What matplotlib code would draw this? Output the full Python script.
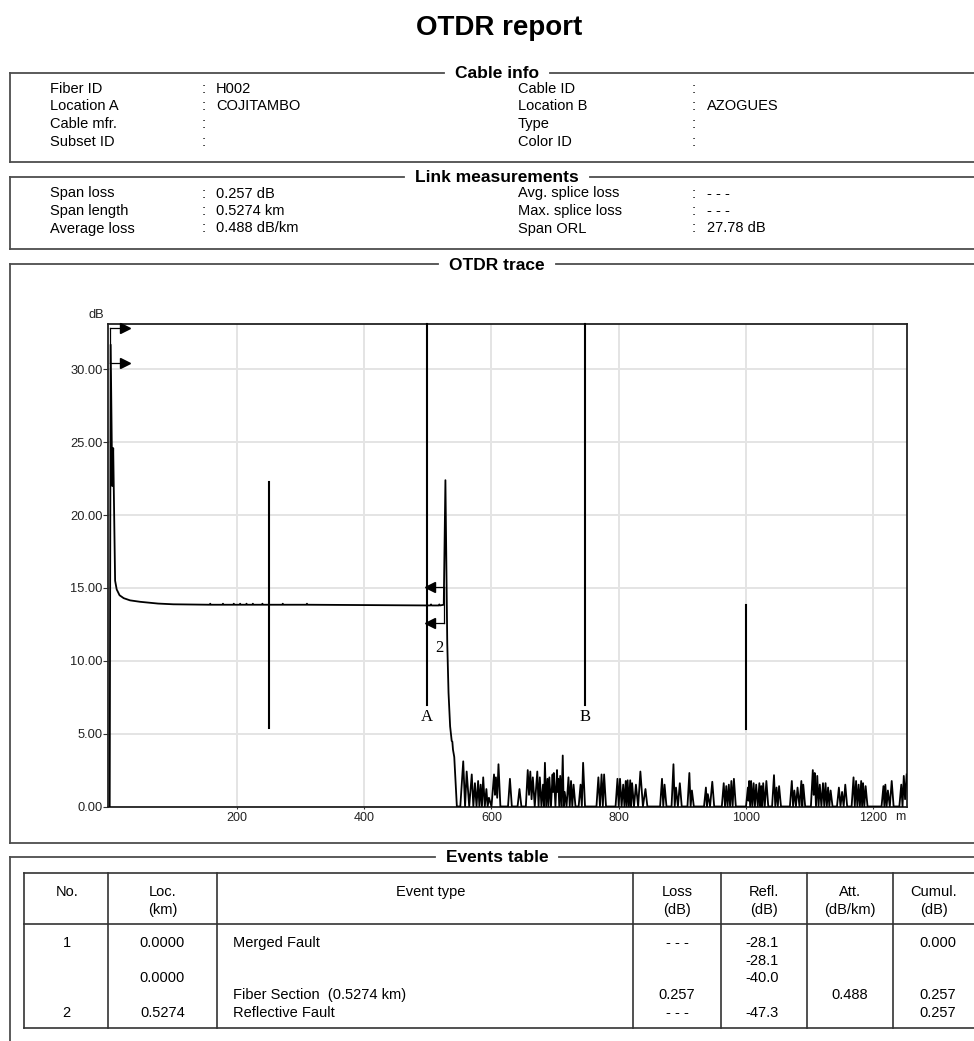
import matplotlib
matplotlib.use('Agg')
import matplotlib.pyplot as plt
import numpy as np
from matplotlib.lines import Line2D

plt.rcParams['font.family'] = ['Liberation Sans', 'DejaVu Sans']

# ---- report data ----------------------------------------------------------
cable_left_labels = ['Fiber ID', 'Location A', 'Cable mfr.', 'Subset ID']
cable_left_values = ['H002', 'COJITAMBO', '', '']
cable_right_labels = ['Cable ID', 'Location B', 'Type', 'Color ID']
cable_right_values = ['', 'AZOGUES', '', '']

link_left_labels = ['Span loss', 'Span length', 'Average loss']
link_left_values = ['0.257 dB', '0.5274 km', '0.488 dB/km']
link_right_labels = ['Avg. splice loss', 'Max. splice loss', 'Span ORL']
link_right_values = ['- - -', '- - -', '27.78 dB']

# launch + fiber section of the trace (m, dB)
fiber_m = [0, 1.5, 4, 5.5, 8.5, 11, 15.5, 22, 32, 48, 76, 100,
           157, 158, 159, 177, 178, 179, 194, 195, 196, 204, 205, 206,
           214, 215, 216, 224, 225, 226, 239, 240, 241, 271, 272, 273,
           309, 310, 311, 504, 505, 506, 517, 518, 519, 525]
fiber_db = [0, 31.7, 22.0, 24.6, 15.5, 14.9, 14.5, 14.3, 14.15, 14.05, 13.93, 13.88,
            13.85, 13.92, 13.85, 13.85, 13.92, 13.85, 13.85, 13.92, 13.85, 13.85, 13.92, 13.85,
            13.85, 13.92, 13.85, 13.85, 13.92, 13.85, 13.85, 13.92, 13.85, 13.85, 13.92, 13.85,
            13.85, 13.92, 13.85, 13.8, 13.87, 13.8, 13.8, 13.87, 13.8, 13.85]

# reflective end of fiber
end_m = [527.6, 529, 530.5, 532.5, 535, 537.5, 538.5, 539.5, 541.5]
end_db = [22.4, 16.9, 11.2, 7.8, 5.5, 4.5, 4.45, 3.9, 3.4]

# noise floor after the end
noise_m = [
    545.6, 551, 555.6, 558.5, 561, 565, 569, 571.5, 574, 576.5,
    579, 581, 583, 585, 587, 589.5, 592, 594, 596, 600,
    604, 605.5, 607, 609, 611, 614, 626, 629, 632, 641,
    644, 647, 654, 657, 659, 661, 663, 665, 668, 672,
    674, 676, 678.5, 681, 682.5, 684, 686, 688, 689.5, 691,
    693.5, 696, 697, 698, 700.5, 703, 704, 705, 706.5, 708,
    710, 712, 713.5, 715, 718, 721, 723, 725, 727, 729,
    732, 737, 740, 742, 744, 747, 765, 768, 770.5, 773,
    775, 777, 780, 795, 798, 800, 802, 804.5, 807, 809,
    811, 812.5, 814, 816, 818, 819.5, 821, 824, 827, 830.5,
    834, 838, 842, 845, 865, 868, 870, 872, 875, 883,
    886, 888, 890, 893, 896, 899, 908, 911, 913, 915,
    918, 934, 937, 938.5, 940, 943.5, 947, 950, 962, 965,
    967, 969, 971, 973, 975, 977, 979, 981, 984, 1000,
    1003, 1004, 1005, 1006.5, 1008, 1010, 1012, 1014, 1016, 1018.5,
    1021, 1022.5, 1024, 1025.5, 1027, 1029.5, 1032, 1035, 1041, 1044,
    1046, 1048, 1050, 1052, 1055, 1069, 1072, 1074, 1076, 1078.5,
    1081, 1084, 1087, 1088.5, 1090, 1093, 1102, 1105, 1106.5, 1108,
    1110, 1112, 1114, 1116, 1118.5, 1121, 1123, 1125, 1127, 1129,
    1131, 1133, 1136, 1143, 1146, 1148.5, 1151, 1153.5, 1156, 1159,
    1166, 1169, 1171, 1173, 1175, 1177, 1179, 1181, 1182.5, 1184,
    1186, 1188, 1191, 1213, 1216, 1217.5, 1219, 1221, 1223, 1226,
    1229, 1232, 1241, 1244, 1246, 1248, 1250, 1252.5,
]
noise_db = [
    0, 0, 3.1, 0, 2.4, 0, 2.2, 0, 1.6, 0,
    1.75, 0, 1.5, 0, 2.0, 0, 1.2, 0, 0.6, 0,
    2.2, 0.8, 2.0, 0.6, 2.9, 0, 0, 1.9, 0, 0,
    1.2, 0, 0, 2.5, 0.8, 2.4, 0.5, 2.0, 0, 2.4,
    0, 2.0, 0, 1.5, 0, 3.0, 0, 1.9, 0, 2.0,
    0, 2.2, 1.0, 2.3, 0, 2.5, 1.0, 1.9, 0, 2.1,
    0, 3.5, 0, 1.0, 0, 2.0, 0, 1.75, 0, 1.5,
    0, 0, 1.5, 0, 3.0, 0, 0, 2.0, 0, 2.2,
    0, 2.2, 0, 0, 1.9, 0, 1.9, 0, 1.5, 0,
    1.75, 0, 1.8, 0, 1.8, 0, 1.6, 0, 1.5, 0,
    2.4, 0, 1.2, 0, 0, 1.9, 0, 1.5, 0, 0,
    2.9, 0, 1.3, 0, 1.6, 0, 0, 2.3, 0, 1.1,
    0, 0, 1.3, 0, 0.85, 0, 1.7, 0, 0, 1.6,
    0, 1.4, 0, 1.5, 0, 1.75, 0, 1.9, 0, 0,
    1.3, 0.4, 1.75, 0, 1.75, 0, 1.6, 0, 1.5, 0,
    1.6, 0, 1.4, 0, 1.6, 0, 1.75, 0, 0, 2.15,
    0, 1.3, 0, 1.4, 0, 0, 1.75, 0, 1.1, 0,
    1.3, 0, 1.75, 0, 1.5, 0, 0, 2.5, 0.8, 2.3,
    0, 2.1, 0, 1.5, 0, 1.6, 0, 1.6, 0, 1.3,
    0, 1.1, 0, 0, 1.3, 0, 1.0, 0, 1.5, 0,
    0, 2.0, 0, 1.75, 0, 1.5, 0, 1.75, 0, 1.6,
    0, 1.4, 0, 0, 1.4, 0, 1.5, 0, 1.1, 0,
    1.75, 0, 0, 1.5, 0, 2.1, 0.5, 2.2,
]

# event markers (m, dB levels)
launch_mark_m = 0.5
launch_mark_db = [32.88, 30.47]
end_mark_m = 525
end_mark_db = [15.05, 12.6]

# cursors A / B and section markers
cursor_m = [498, 747]
cursor_names = ['A', 'B']
cursor_low_db = 6.95
section_m = [250, 1000]
section_lo_db = [5.4, 5.3]
section_hi_db = [22.3, 13.8]

# events table
header_top = ['No.', 'Loc.', 'Event type', 'Loss', 'Refl.', 'Att.', 'Cumul.']
header_bottom = ['', '(km)', '', '(dB)', '(dB)', '(dB/km)', '(dB)']
col_no = [('1', 0), ('2', 4)]
col_loc = [('0.0000', 0), ('0.0000', 2), ('0.5274', 4)]
col_type = [('Merged Fault', 0), ('Fiber Section  (0.5274 km)', 3), ('Reflective Fault', 4)]
col_loss = [('- - -', 0), ('0.257', 3), ('- - -', 4)]
col_refl = [('-28.1', 0), ('-28.1', 1), ('-40.0', 2), ('-47.3', 4)]
col_att = [('0.488', 3)]
col_cumul = [('0.000', 0), ('0.257', 3), ('0.257', 4)]

# ---- layout helpers (pixel coordinates, origin top-left) -------------------
W, H = 974, 1041
fig = plt.figure(figsize=(W / 100, H / 100), dpi=100)
renderer = fig.canvas.get_renderer()


def fx(px):
    return px / W


def fy(py):
    return 1 - py / H


def hline(x0, x1, y, color='#4d4d4d', lw=1.3):
    fig.add_artist(Line2D([fx(x0), fx(x1)], [fy(y), fy(y)],
                          transform=fig.transFigure, color=color, lw=lw))


def vline(x, y0, y1, color='#4d4d4d', lw=1.3):
    fig.add_artist(Line2D([fx(x), fx(x)], [fy(y0), fy(y1)],
                          transform=fig.transFigure, color=color, lw=lw))


def section(title, top, bottom):
    t = fig.text(fx(497), fy(top + 1), title, ha='center', va='center',
                 fontsize=12.5, fontweight='bold')
    bb = t.get_window_extent(renderer)
    hline(10, bb.x0 - 11, top)
    hline(bb.x1 + 11, 990, top)
    vline(10, top, bottom)
    hline(10, 990, bottom)


def text_px(x, y, s, **kw):
    kw.setdefault('fontsize', 10.5)
    kw.setdefault('va', 'center')
    fig.text(fx(x), fy(y), s, **kw)


fig.text(fx(499), fy(28), 'OTDR report', ha='center', va='center',
         fontsize=20, fontweight='bold')

# ---- cable info -------------------------------------------------------------
section('Cable info', 73, 162)
for i, y in enumerate([89, 106.5, 124, 142]):
    text_px(50, y, cable_left_labels[i])
    text_px(202, y, ':')
    text_px(216, y, cable_left_values[i])
    text_px(518, y, cable_right_labels[i])
    text_px(692, y, ':')
    text_px(707, y, cable_right_values[i])

# ---- link measurements ------------------------------------------------------
section('Link measurements', 177, 249)
for i, y in enumerate([193.5, 211, 228.5]):
    text_px(50, y, link_left_labels[i])
    text_px(202, y, ':')
    text_px(216, y, link_left_values[i])
    text_px(518, y, link_right_labels[i])
    text_px(692, y, ':')
    text_px(707, y, link_right_values[i])

# ---- OTDR trace -------------------------------------------------------------
section('OTDR trace', 264, 842.5)

ax = fig.add_axes([fx(108.3), fy(806.5), fx(907.3) - fx(108.3), fy(324.3) - fy(806.5)])
trace_m = np.concatenate([fiber_m, end_m, noise_m])
trace_db = np.concatenate([fiber_db, end_db, noise_db])
ax.plot(trace_m, trace_db, color='black', lw=1.3, zorder=3)

ax.set_xlim(-2.2, 1253.5)
ax.set_ylim(0, 33.1)
ax.set_xticks([200, 400, 600, 800, 1000, 1200])
ax.set_yticks([0, 5, 10, 15, 20, 25, 30])
ax.yaxis.set_major_formatter(matplotlib.ticker.FormatStrFormatter('%.2f'))
ax.tick_params(axis='y', length=3.6, width=0.8, pad=0.5, labelsize=9.3,
               color='#333333', labelcolor='#222222')
ax.tick_params(axis='x', length=1.5, width=0.8, pad=2.5, labelsize=9,
               color='#333333', labelcolor='#222222')
ax.grid(True, color='#e4e4e4', lw=1.4, zorder=0)
ax.set_axisbelow(True)
for sp in ax.spines.values():
    sp.set_color('#222222')
    sp.set_linewidth(1.3)

fig.text(fx(96.7), fy(315), 'dB', ha='center', va='center', fontsize=9.3, color='#222222')
fig.text(fx(900), fy(817.5), 'm', ha='center', va='center', fontsize=9, color='#222222')

# cursors A and B
for m, name in zip(cursor_m, cursor_names):
    ax.plot([m, m], [cursor_low_db, 33.1], color='black', lw=1.5, zorder=4, clip_on=False)
    ax.text(m, cursor_low_db - 0.8, name, ha='center', va='center', fontsize=12,
            family=['Liberation Serif', 'DejaVu Serif'])

# section markers
for m, lo, hi in zip(section_m, section_lo_db, section_hi_db):
    ax.plot([m, m], [lo, hi], color='black', lw=1.5, zorder=4)

# launch event marker
ax.plot([launch_mark_m, launch_mark_m], launch_mark_db, color='black', lw=0.9, zorder=4)
for db in launch_mark_db:
    ax.plot([launch_mark_m, 20], [db, db], color='black', lw=0.9, zorder=4, clip_on=False)
    ax.plot(24.5, db, marker='>', ms=7.5, color='black', zorder=5, clip_on=False)

# end event marker
ax.plot([end_mark_m, end_mark_m], end_mark_db, color='black', lw=0.9, zorder=4)
for db in end_mark_db:
    ax.plot([end_mark_m, 507], [db, db], color='black', lw=0.9, zorder=4)
    ax.plot(503, db, marker='<', ms=7.5, color='black', zorder=5)
ax.text(518, 10.9, '2', ha='center', va='center', fontsize=12,
        family=['Liberation Serif', 'DejaVu Serif'])

# ---- events table -----------------------------------------------------------
section('Events table', 856.5, 1060)

tbl_top, tbl_head, tbl_bot = 872.7, 924, 1028
col_edges = [24, 108.3, 216.7, 633.3, 720.7, 807.3, 893.3, 976]
hline(24, 976, tbl_top, color='#333333', lw=1.2)
hline(24, 976, tbl_head, color='#333333', lw=1.2)
hline(24, 976, tbl_bot, color='#333333', lw=1.2)
for x in col_edges:
    vline(x, tbl_top, tbl_bot, color='#333333', lw=1.2)

head_x = [66.7, 162.5, 431, 677, 764, 850, 934]
for x, t1, t2 in zip(head_x, header_top, header_bottom):
    text_px(x, 891.7, t1, ha='center')
    if t2:
        text_px(x, 910, t2, ha='center')

row_y = [943.3, 961, 978.3, 995, 1013.3]
cells = [
    (col_no, 66.7, 'center'),
    (col_loc, 162.5, 'center'),
    (col_type, 232.7, 'left'),
    (col_loss, 677, 'center'),
    (col_refl, 779, 'right'),
    (col_att, 850, 'center'),
    (col_cumul, 956, 'right'),
]
for entries, x, ha in cells:
    for s, r in entries:
        text_px(x, row_y[r], s, ha=ha)

fig.savefig('out.png', dpi=100, facecolor='white')
